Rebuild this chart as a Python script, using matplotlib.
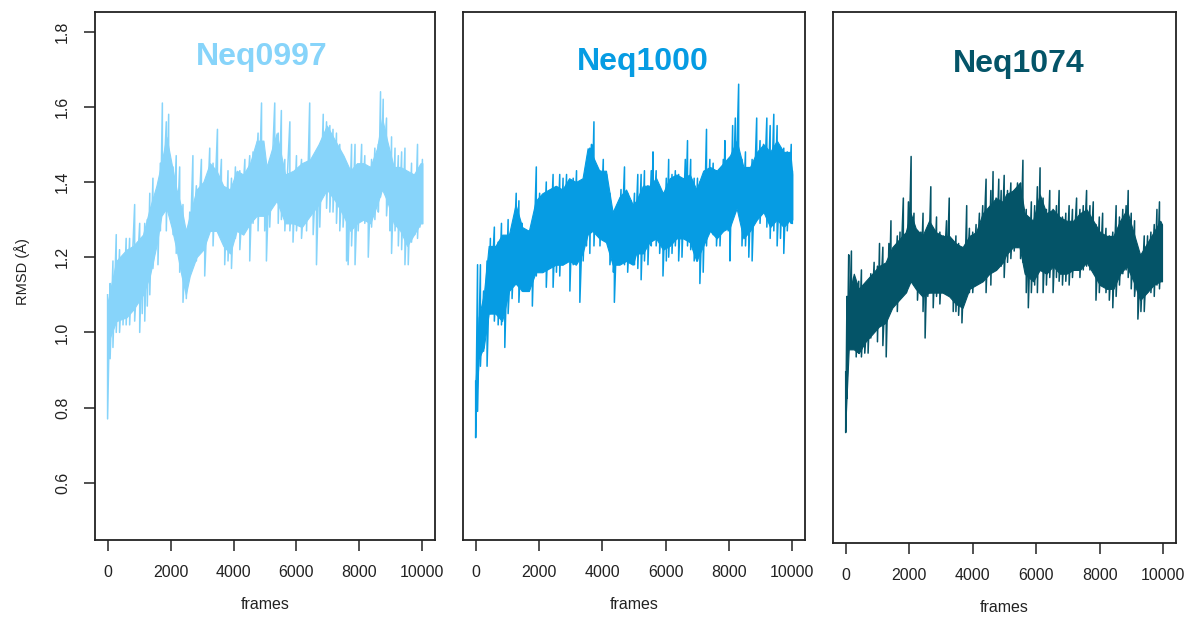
import matplotlib
matplotlib.use("Agg")
import matplotlib.pyplot as plt
import numpy as np

plt.rcParams['font.family'] = ['Liberation Sans', 'DejaVu Sans']

# values: frame, upper spike, lower spike
frames_0997 = [0, 80, 170, 275, 380, 490, 590, 700, 860, 1020, 1100, 1180, 1260,
               1340, 1440, 1600, 1675, 1740, 1865, 1940, 2080, 2180, 2290, 2395,
               2500, 2610, 2710, 2820, 2980, 3085, 3245, 3350, 3490, 3615, 3720,
               3825, 3935, 4060, 4200, 4360, 4515, 4620, 4780, 4890, 4990, 5045,
               5150, 5310, 5420, 5520, 5630, 5790, 5890, 6000, 6160, 6320, 6420,
               6530, 6635, 6740, 6850, 6955, 7060, 7160, 7270, 7375, 7480, 7590,
               7640, 7750, 7860, 7960, 8070, 8170, 8280, 8385, 8490, 8600, 8670,
               8755, 8860, 8970, 9020, 9130, 9235, 9340, 9445, 9550, 9655, 9760,
               9845, 9920, 10000]
hi_0997 = [1.10, 1.13, 1.19, 1.26, 1.22, 1.19, 1.25, 1.25, 1.34, 1.29, 1.24, 1.29, 1.30,
           1.37, 1.41, 1.36, 1.45, 1.61, 1.56, 1.58, 1.44, 1.47, 1.44, 1.34,
           1.27, 1.32, 1.47, 1.39, 1.46, 1.38, 1.49, 1.45, 1.54, 1.46, 1.37,
           1.43, 1.41, 1.44, 1.43, 1.46, 1.47, 1.48, 1.53, 1.61, 1.46, 1.39,
           1.46, 1.61, 1.53, 1.59, 1.46, 1.56, 1.42, 1.47, 1.46, 1.45, 1.61,
           1.41, 1.46, 1.50, 1.58, 1.56, 1.55, 1.54, 1.53, 1.50, 1.46, 1.43,
           1.41, 1.50, 1.50, 1.42, 1.50, 1.47, 1.41, 1.46, 1.49, 1.50, 1.64,
           1.62, 1.57, 1.46, 1.52, 1.49, 1.47, 1.48, 1.49, 1.42, 1.45, 1.42,
           1.50, 1.41, 1.46]
lo_0997 = [0.77, 0.93, 0.96, 1.00, 1.00, 1.02, 1.02, 1.02, 1.03, 1.00, 1.05, 1.03, 1.07,
           1.10, 1.17, 1.18, 1.27, 1.32, 1.27, 1.32, 1.26, 1.21, 1.16, 1.08,
           1.09, 1.19, 1.24, 1.19, 1.25, 1.15, 1.27, 1.23, 1.28, 1.27, 1.18,
           1.19, 1.17, 1.25, 1.22, 1.27, 1.19, 1.29, 1.27, 1.33, 1.27, 1.19,
           1.28, 1.35, 1.29, 1.30, 1.27, 1.27, 1.24, 1.27, 1.25, 1.27, 1.31,
           1.26, 1.18, 1.28, 1.37, 1.33, 1.32, 1.32, 1.29, 1.27, 1.28, 1.19,
           1.18, 1.23, 1.18, 1.27, 1.30, 1.29, 1.20, 1.28, 1.30, 1.32, 1.36,
           1.41, 1.31, 1.27, 1.21, 1.27, 1.23, 1.22, 1.18, 1.18, 1.24, 1.26,
           1.25, 1.28, 1.29]
# dense core of the trace: frame, top, bottom
core_f_0997 = [0, 275, 600, 810, 1125, 1340, 1550, 1710, 1870, 2030, 2190, 2350,
               2485, 2610, 2825, 3040, 3250, 3460, 3675, 3890, 4100, 4310, 4525,
               4735, 4950, 5050, 5370, 5640, 5900, 6170, 6430, 6700, 6965, 7230,
               7495, 7710, 7920, 8130, 8345, 8560, 8720, 8880, 9090, 9300, 9515,
               9730, 9940, 10000]
core_hi_0997 = [1.08, 1.19, 1.22, 1.23, 1.26, 1.33, 1.39, 1.45, 1.52, 1.45, 1.38, 1.33,
                1.27, 1.31, 1.38, 1.40, 1.45, 1.43, 1.39, 1.38, 1.43, 1.42, 1.45,
                1.51, 1.51, 1.44, 1.53, 1.42, 1.43, 1.45, 1.46, 1.50, 1.55, 1.51,
                1.47, 1.43, 1.45, 1.45, 1.44, 1.49, 1.57, 1.51, 1.44, 1.44, 1.43,
                1.42, 1.45, 1.45]
core_lo_0997 = [0.97, 1.03, 1.04, 1.06, 1.10, 1.15, 1.23, 1.31, 1.33, 1.28, 1.22, 1.15,
                1.10, 1.15, 1.20, 1.22, 1.27, 1.27, 1.23, 1.21, 1.27, 1.26, 1.29,
                1.31, 1.31, 1.31, 1.35, 1.29, 1.29, 1.28, 1.31, 1.34, 1.38, 1.35,
                1.31, 1.27, 1.29, 1.30, 1.29, 1.34, 1.38, 1.35, 1.29, 1.27, 1.23,
                1.26, 1.29, 1.29]

frames_1000 = [0, 60, 150, 250, 360, 465, 590, 710, 815, 920, 1025, 1150, 1280,
               1365, 1470, 1575, 1680, 1790, 1915, 2020, 2125, 2230, 2340, 2445,
               2550, 2655, 2760, 2870, 2975, 3080, 3185, 3290, 3395, 3500, 3605,
               3660, 3735, 3820, 3925, 4030, 4135, 4240, 4350, 4380, 4485, 4590,
               4700, 4800, 4910, 5015, 5120, 5225, 5330, 5440, 5545, 5600, 5700,
               5810, 5915, 6020, 6095, 6200, 6305, 6410, 6515, 6620, 6690, 6790,
               6900, 7005, 7080, 7185, 7290, 7395, 7500, 7605, 7715, 7820, 7870,
               7975, 8030, 8115, 8200, 8305, 8410, 8520, 8625, 8730, 8875, 8980,
               9090, 9195, 9300, 9415, 9520, 9625, 9730, 9840, 9965, 10000]
hi_1000 = [0.87, 1.18, 1.18, 1.11, 1.19, 1.25, 1.28, 1.24, 1.29, 1.25, 1.30, 1.27, 1.37,
           1.35, 1.29, 1.27, 1.27, 1.27, 1.44, 1.37, 1.36, 1.40, 1.37, 1.42,
           1.37, 1.42, 1.41, 1.42, 1.37, 1.41, 1.43, 1.37, 1.35, 1.44, 1.49,
           1.50, 1.56, 1.43, 1.43, 1.46, 1.42, 1.37, 1.30, 1.27, 1.34, 1.38,
           1.44, 1.37, 1.35, 1.37, 1.42, 1.42, 1.43, 1.39, 1.43, 1.48, 1.43,
           1.37, 1.36, 1.41, 1.46, 1.42, 1.43, 1.42, 1.40, 1.46, 1.51, 1.46,
           1.41, 1.41, 1.40, 1.39, 1.54, 1.46, 1.45, 1.43, 1.42, 1.46, 1.51,
           1.43, 1.39, 1.55, 1.57, 1.66, 1.46, 1.48, 1.43, 1.46, 1.57, 1.51,
           1.50, 1.57, 1.55, 1.58, 1.55, 1.46, 1.49, 1.48, 1.50, 1.43]
lo_1000 = [0.72, 0.79, 0.91, 0.95, 0.91, 1.05, 1.03, 1.02, 1.02, 0.96, 1.05, 1.09, 1.13,
           1.08, 1.11, 1.14, 1.11, 1.07, 1.15, 1.18, 1.16, 1.12, 1.19, 1.12,
           1.16, 1.15, 1.18, 1.19, 1.11, 1.18, 1.19, 1.08, 1.19, 1.23, 1.21,
           1.28, 1.23, 1.27, 1.23, 1.27, 1.25, 1.18, 1.16, 1.08, 1.19, 1.19,
           1.18, 1.16, 1.19, 1.18, 1.17, 1.14, 1.19, 1.18, 1.23, 1.28, 1.23,
           1.21, 1.15, 1.19, 1.20, 1.21, 1.23, 1.19, 1.20, 1.27, 1.23, 1.22,
           1.19, 1.19, 1.13, 1.16, 1.23, 1.27, 1.26, 1.23, 1.23, 1.27, 1.28,
           1.27, 1.19, 1.31, 1.32, 1.35, 1.23, 1.23, 1.20, 1.19, 1.30, 1.29,
           1.32, 1.28, 1.25, 1.27, 1.23, 1.25, 1.21, 1.27, 1.29, 1.29]
core_f_1000 = [0, 95, 255, 410, 625, 835, 1050, 1260, 1470, 1680, 1895, 2105, 2315,
               2530, 2740, 2950, 3165, 3375, 3535, 3690, 3905, 4115, 4325, 4540,
               4750, 4960, 5070, 5280, 5490, 5700, 5915, 6125, 6340, 6550, 6760,
               6970, 7185, 7400, 7610, 7820, 8030, 8240, 8455, 8665, 8880, 9090,
               9300, 9510, 9725, 9935, 10000]
core_hi_1000 = [0.87, 1.04, 1.10, 1.23, 1.23, 1.26, 1.26, 1.34, 1.28, 1.27, 1.35, 1.37,
                1.38, 1.39, 1.38, 1.41, 1.40, 1.41, 1.49, 1.47, 1.43, 1.43, 1.32,
                1.36, 1.38, 1.34, 1.35, 1.39, 1.39, 1.41, 1.37, 1.41, 1.42, 1.41,
                1.42, 1.38, 1.43, 1.44, 1.43, 1.45, 1.47, 1.51, 1.44, 1.44, 1.48,
                1.50, 1.48, 1.51, 1.48, 1.48, 1.42]
core_lo_1000 = [0.79, 0.93, 0.96, 1.05, 1.05, 1.03, 1.11, 1.13, 1.11, 1.11, 1.16, 1.16,
                1.17, 1.18, 1.18, 1.19, 1.18, 1.21, 1.26, 1.27, 1.25, 1.24, 1.18,
                1.18, 1.19, 1.18, 1.21, 1.21, 1.24, 1.25, 1.22, 1.23, 1.25, 1.25,
                1.24, 1.19, 1.23, 1.27, 1.25, 1.27, 1.28, 1.33, 1.25, 1.27, 1.30,
                1.32, 1.28, 1.30, 1.28, 1.30, 1.30]

frames_1074 = [0, 40, 95, 180, 250, 330, 410, 495, 600, 705, 790, 895, 1000, 1065,
               1170, 1275, 1360, 1425, 1520, 1625, 1710, 1815, 1910, 1975, 2060,
               2150, 2260, 2365, 2435, 2500, 2585, 2680, 2755, 2860, 2965, 3070,
               3175, 3260, 3385, 3470, 3555, 3660, 3735, 3810, 3895, 4000, 4105,
               4210, 4315, 4420, 4505, 4570, 4640, 4735, 4820, 4895, 4990, 5095,
               5200, 5305, 5410, 5505, 5580, 5685, 5750, 5845, 5950, 6035, 6120,
               6215, 6320, 6425, 6530, 6635, 6720, 6825, 6930, 7035, 7140, 7270,
               7375, 7480, 7585, 7690, 7795, 7880, 7985, 8090, 8195, 8300, 8410,
               8515, 8620, 8725, 8830, 8895, 8990, 9095, 9200, 9295, 9400, 9505,
               9610, 9715, 9800, 9880, 9960]
hi_1074 = [0.90, 1.10, 1.21, 1.22, 1.15, 1.10, 1.14, 1.17, 1.11, 1.08, 1.16, 1.19, 1.18, 1.24,
           1.23, 1.18, 1.24, 1.30, 1.21, 1.26, 1.27, 1.36, 1.26, 1.35, 1.47,
           1.32, 1.26, 1.27, 1.32, 1.25, 1.28, 1.39, 1.27, 1.31, 1.27, 1.26,
           1.30, 1.36, 1.18, 1.26, 1.24, 1.23, 1.20, 1.34, 1.28, 1.27, 1.29,
           1.32, 1.34, 1.41, 1.32, 1.38, 1.43, 1.36, 1.41, 1.38, 1.42, 1.38,
           1.40, 1.38, 1.40, 1.40, 1.46, 1.33, 1.29, 1.35, 1.34, 1.39, 1.44,
           1.36, 1.33, 1.38, 1.33, 1.34, 1.38, 1.31, 1.32, 1.34, 1.33, 1.36,
           1.33, 1.34, 1.38, 1.34, 1.35, 1.29, 1.31, 1.32, 1.28, 1.26, 1.27,
           1.34, 1.31, 1.33, 1.34, 1.38, 1.32, 1.30, 1.21, 1.20, 1.26, 1.26,
           1.27, 1.29, 1.33, 1.35, 1.29]
lo_1074 = [0.74, 0.83, 0.96, 1.01, 0.97, 0.94, 0.95, 0.94, 0.95, 0.95, 0.99, 1.01, 0.98, 1.03,
           0.97, 0.94, 1.06, 1.07, 1.10, 1.06, 1.11, 1.13, 1.11, 1.15, 1.18,
           1.13, 1.09, 1.13, 1.06, 0.99, 1.10, 1.11, 1.07, 1.10, 1.08, 1.13,
           1.11, 1.13, 1.06, 1.06, 1.05, 1.03, 1.09, 1.13, 1.11, 1.11, 1.13,
           1.15, 1.17, 1.11, 1.16, 1.13, 1.18, 1.17, 1.19, 1.18, 1.15, 1.19,
           1.20, 1.22, 1.23, 1.20, 1.19, 1.11, 1.07, 1.11, 1.13, 1.11, 1.17,
           1.11, 1.13, 1.15, 1.11, 1.15, 1.14, 1.13, 1.14, 1.13, 1.15, 1.17,
           1.15, 1.17, 1.18, 1.17, 1.18, 1.09, 1.11, 1.13, 1.11, 1.09, 1.07,
           1.10, 1.13, 1.16, 1.17, 1.15, 1.12, 1.10, 1.04, 1.06, 1.06, 1.11,
           1.11, 1.10, 1.13, 1.12, 1.14]
core_f_1074 = [0, 95, 255, 410, 620, 835, 1045, 1255, 1465, 1675, 1890, 2045, 2205,
               2415, 2625, 2840, 3050, 3260, 3470, 3680, 3895, 4105, 4315, 4525,
               4735, 4950, 5050, 5265, 5475, 5635, 5900, 6110, 6320, 6530, 6740,
               6950, 7165, 7375, 7585, 7795, 8005, 8220, 8430, 8640, 8850, 9060,
               9270, 9485, 9695, 9905, 9960]
core_hi_1074 = [0.88, 1.10, 1.16, 1.12, 1.14, 1.16, 1.18, 1.19, 1.23, 1.25, 1.27, 1.32,
                1.28, 1.26, 1.30, 1.27, 1.26, 1.26, 1.24, 1.23, 1.26, 1.27, 1.32,
                1.34, 1.36, 1.35, 1.37, 1.38, 1.40, 1.32, 1.30, 1.37, 1.32, 1.33,
                1.31, 1.30, 1.30, 1.32, 1.33, 1.30, 1.27, 1.26, 1.26, 1.30, 1.33,
                1.27, 1.21, 1.24, 1.27, 1.30, 1.29]
core_lo_1074 = [0.78, 0.96, 0.96, 0.95, 0.98, 1.00, 1.02, 1.03, 1.07, 1.09, 1.11, 1.14,
                1.12, 1.10, 1.11, 1.11, 1.11, 1.10, 1.08, 1.07, 1.12, 1.13, 1.14,
                1.16, 1.17, 1.19, 1.21, 1.23, 1.23, 1.16, 1.14, 1.17, 1.16, 1.18,
                1.16, 1.16, 1.17, 1.17, 1.19, 1.16, 1.13, 1.12, 1.12, 1.16, 1.18,
                1.14, 1.09, 1.11, 1.13, 1.14, 1.14]

names = ['Neq0997', 'Neq1000', 'Neq1074']
colors = ['#87D4FA', '#069CE3', '#045468']
series = [(frames_0997, hi_0997, lo_0997, core_f_0997, core_hi_0997, core_lo_0997),
          (frames_1000, hi_1000, lo_1000, core_f_1000, core_hi_1000, core_lo_1000),
          (frames_1074, hi_1074, lo_1074, core_f_1074, core_hi_1074, core_lo_1074)]

# axes boxes in pixels of the 1187x617 reference: left, right, top, bottom
boxes = [(95, 435, 12, 540), (463, 805, 12, 540), (833, 1176, 12, 543)]
title_pos = [(0.491, 0.915), (0.526, 0.905), (0.542, 0.902)]

W, H = 1187, 617
fig = plt.figure(figsize=(W / 100, H / 100), dpi=100)

for i in range(3):
    l, r, t, b = boxes[i]
    ax = fig.add_axes([l / W, 1 - b / H, (r - l) / W, (b - t) / H])
    fr, hi, lo, cf, chi, clo = series[i]
    ax.fill_between(cf, clo, chi, color=colors[i], lw=0.8)
    x = np.repeat(fr, 2)
    y = np.column_stack([hi, lo]).ravel()
    ax.plot(x, y, color=colors[i], lw=1.1)

    ax.set_xlim(-400, 10400)
    ax.set_ylim(0.448, 1.852)
    ax.set_xticks([0, 2000, 4000, 6000, 8000, 10000])
    ax.tick_params(axis='x', direction='out', length=8, width=1.1,
                   pad=10, labelsize=11.5, colors='#222222')
    if i == 0:
        ax.set_yticks([0.6, 0.8, 1.0, 1.2, 1.4, 1.6, 1.8])
        ax.set_yticklabels(['0.6', '0.8', '1.0', '1.2', '1.4', '1.6', '1.8'],
                           rotation=90, va='center')
        ax.tick_params(axis='y', direction='out', length=8, width=1.1,
                       pad=10, labelsize=11.5, colors='#222222')
    else:
        ax.set_yticks([])
    for sp in ax.spines.values():
        sp.set_color('#222222')
        sp.set_linewidth(1.3)

    ax.set_xlabel('frames', fontsize=11.5, color='#222222', labelpad=12)
    ax.text(title_pos[i][0], title_pos[i][1], names[i], transform=ax.transAxes,
            ha='center', va='center', fontsize=23, fontweight='bold',
            color=colors[i])

fig.text(22 / W, 1 - 272 / H, 'RMSD (Å)', rotation=90, ha='center',
         va='center', fontsize=10.5, color='#222222')

fig.savefig('out.png', dpi=100)
